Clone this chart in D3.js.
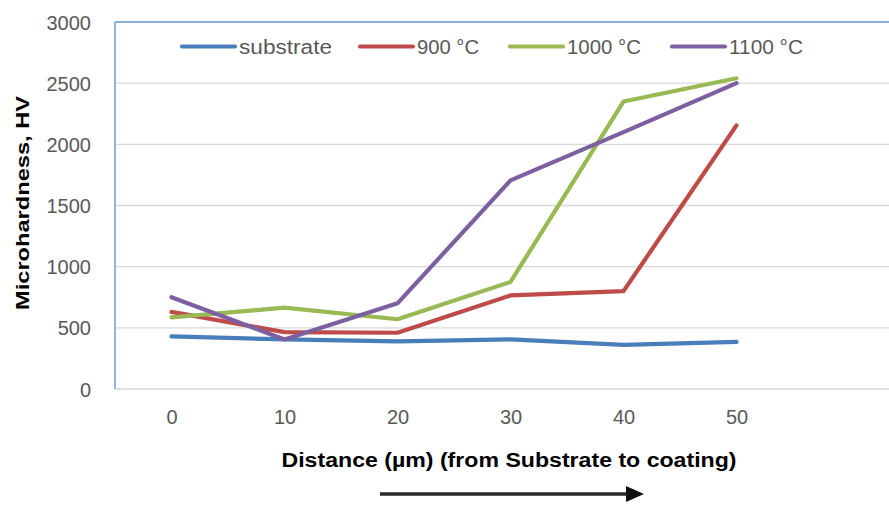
<!DOCTYPE html>
<html><head><meta charset="utf-8">
<script src="https://cdn.jsdelivr.net/npm/d3@7"></script>
<style>body{margin:0;background:#fff}svg{display:block}</style>
</head><body>
<script>
const categories = [0, 10, 20, 30, 40, 50];
const seriesNames = ["substrate", "900 °C", "1000 °C", "1100 °C"];
const substrate = [430, 405, 390, 405, 360, 385];
const c900 = [630, 465, 460, 765, 800, 2155];
const c1000 = [585, 665, 570, 875, 2350, 2540];
const c1100 = [750, 405, 700, 1705, 2100, 2500];
const yTicks = [0, 500, 1000, 1500, 2000, 2500, 3000];
const colors = ["#4a7ebb", "#be4b48", "#98b954", "#7d60a0"];
const seriesValues = [substrate, c900, c1000, c1100];

(function () {
const W = 889, H = 506;
const svg = d3.select("body").append("svg").attr("width", W).attr("height", H);
const pl = 115, pt = 22, pb = 389, pr = 906;

const x = d3.scalePoint().domain([...categories, 60]).range([pl, pr]).padding(0.5);
const y = d3.scaleLinear().domain([0, 3000]).range([pb, pt]);

svg.append("g").selectAll("line").data(yTicks.filter(d => d > 0 && d < 3000)).join("line")
  .attr("x1", pl).attr("x2", W).attr("y1", d => y(d)).attr("y2", d => y(d))
  .attr("stroke", "#d9d9d9").attr("stroke-width", 1.3);
svg.append("line").attr("x1", pl).attr("x2", W).attr("y1", pb).attr("y2", pb)
  .attr("stroke", "#d9d9d9").attr("stroke-width", 1.5);
svg.append("line").attr("x1", pl).attr("x2", W).attr("y1", pt).attr("y2", pt)
  .attr("stroke", "#8aacd8").attr("stroke-width", 1.8);
svg.append("line").attr("x1", pl).attr("x2", pl).attr("y1", pt).attr("y2", pb)
  .attr("stroke", "#8aacd8").attr("stroke-width", 1.8);

const FF = "Liberation Sans, Arial, sans-serif";
const yAxis = d3.axisLeft(y).tickValues(yTicks).tickFormat(d3.format("d")).tickSize(0).tickPadding(0);
const ga = svg.append("g").attr("transform", `translate(91,0)`).call(yAxis);
ga.select(".domain").remove();
ga.selectAll("text").attr("font-family", FF)
  .attr("font-size", 20).attr("fill", "#595959").attr("dy", "0.35em");

const xAxis = d3.axisBottom(x).tickValues(categories).tickFormat(d3.format("d")).tickSize(0).tickPadding(0);
const gx = svg.append("g").attr("transform", `translate(0,410)`).call(xAxis);
gx.select(".domain").remove();
gx.selectAll("text").attr("font-family", FF)
  .attr("font-size", 20).attr("fill", "#595959").attr("dy", "0.71em");

const line = d3.line().x((d, i) => x(categories[i])).y(d => y(d));
seriesValues.forEach((vals, k) => {
  svg.append("path").datum(vals).attr("d", line).attr("fill", "none")
    .attr("stroke", colors[k]).attr("stroke-width", 4.2)
    .attr("stroke-linejoin", "round").attr("stroke-linecap", "round");
});

// legend
const legX = [180, 358, 508, 670];
const legTextW = [93, 62, 74, 74];
seriesNames.forEach((n, k) => {
  svg.append("line").attr("x1", legX[k] + 2).attr("x2", legX[k] + 55).attr("y1", 46.5).attr("y2", 46.5)
    .attr("stroke", colors[k]).attr("stroke-width", 4.2).attr("stroke-linecap", "round");
  svg.append("text").attr("x", legX[k] + 59).attr("y", 46.5).attr("dy", "0.35em")
    .attr("font-family", FF)
    .attr("font-size", 20).attr("fill", "#595959")
    .attr("textLength", legTextW[k]).attr("lengthAdjust", "spacingAndGlyphs").text(n);
});

svg.append("text").attr("x", 509).attr("y", 467).attr("text-anchor", "middle")
  .attr("font-family", FF).attr("font-weight", "bold")
  .attr("font-size", 20).attr("fill", "#000")
  .attr("textLength", 455).attr("lengthAdjust", "spacingAndGlyphs")
  .text("Distance  (µm) (from Substrate to coating)");
svg.append("text").attr("transform", "translate(29,203) rotate(-90)").attr("text-anchor", "middle")
  .attr("font-family", FF).attr("font-weight", "bold")
  .attr("font-size", 19).attr("fill", "#000")
  .attr("textLength", 214).attr("lengthAdjust", "spacingAndGlyphs")
  .text("Microhardness,  HV");

const defs = svg.append("defs");
const grad = defs.append("linearGradient").attr("id", "ag").attr("x1", 0).attr("x2", 0).attr("y1", 0).attr("y2", 1);
grad.append("stop").attr("offset", "0").attr("stop-color", "#777");
grad.append("stop").attr("offset", "0.5").attr("stop-color", "#111");
grad.append("stop").attr("offset", "1").attr("stop-color", "#777");
svg.append("rect").attr("x", 380).attr("y", 492).attr("width", 248).attr("height", 4).attr("fill", "url(#ag)");
svg.append("path").attr("d", "M626,486 L644,494 L626,502 Z").attr("fill", "#111");
})();
</script>
</body></html>
